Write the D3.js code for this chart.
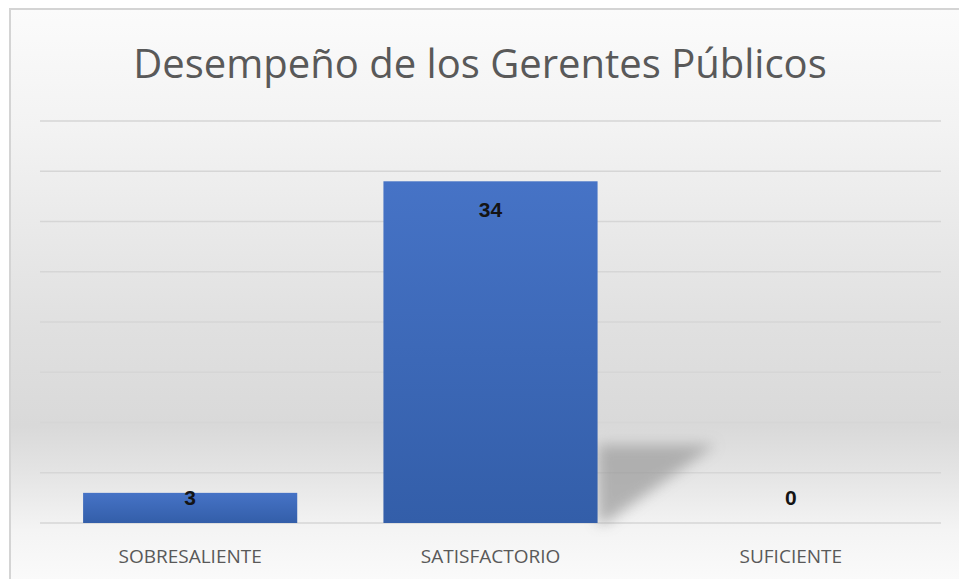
<!DOCTYPE html>
<html><head><meta charset="utf-8">
<script src="https://cdn.jsdelivr.net/npm/d3@7"></script>
<style>html,body{margin:0;padding:0;background:#fff;overflow:hidden}</style>
</head><body>
<svg id="c" width="959" height="579"></svg>
<script>
const title = "Desempeño de los Gerentes Públicos";
const categories = ["SOBRESALIENTE", "SATISFACTORIO", "SUFICIENTE"];
const values = [3, 34, 0];
const yTicks = [0, 5, 10, 15, 20, 25, 30, 35, 40];

(function(){
const svg = d3.select("#c");
const W = 959, H = 579;
const defs = svg.append("defs");

const bg = defs.append("linearGradient").attr("id","bg").attr("x1",0).attr("y1",0).attr("x2",0).attr("y2",1);
[[0,"#fbfbfb"],[0.2,"#f3f3f3"],[0.55,"#e0e0e0"],[0.72,"#d9d9d9"],[0.8,"#e4e4e4"],[0.9,"#f4f4f4"],[1,"#fbfbfb"]]
  .forEach(([o,c])=>bg.append("stop").attr("offset",o).attr("stop-color",c));

const barG = defs.append("linearGradient").attr("id","barG").attr("x1",0).attr("y1",0).attr("x2",0).attr("y2",1);
barG.append("stop").attr("offset",0).attr("stop-color","#4673c6");
barG.append("stop").attr("offset",1).attr("stop-color","#335ea9");

const blur = defs.append("filter").attr("id","blur").attr("x","-30%").attr("y","-30%").attr("width","160%").attr("height","160%");
blur.append("feGaussianBlur").attr("stdDeviation",7);

svg.append("rect").attr("x",10).attr("y",9).attr("width",W).attr("height",H)
  .attr("fill","url(#bg)").attr("stroke","#d4d4d4").attr("stroke-width",2);

svg.append("text").attr("x",480).attr("y",78).attr("text-anchor","middle")
  .attr("font-family","'Open Sans', 'Noto Sans', sans-serif").attr("font-size",40)
  .attr("fill","#595959").text(title);

const pl = 40, pr = 941, pt = 121, pb = 523;
const x = d3.scaleBand().domain(categories).range([pl, pr]).paddingInner(0.287).paddingOuter(0.1435);
const y = d3.scaleLinear().domain([0, 40]).range([pb, pt]);

svg.append("g").selectAll("line").data(yTicks).join("line")
  .attr("x1", pl).attr("x2", pr)
  .attr("y1", d=>y(d)).attr("y2", d=>y(d))
  .attr("stroke", "#d6d6d6").attr("stroke-width", 1.5);

const iMax = values.indexOf(d3.max(values));
const sx = x(categories[iMax]) + x.bandwidth();
svg.append("path")
  .attr("d", `M${sx},${y(7.8)} L${sx+118},${y(7.8)} L${sx+8},${y(0)} L${sx},${y(0)} Z`)
  .attr("fill", "#9a9a9a").attr("opacity", 0.7).attr("filter","url(#blur)");

svg.append("g").selectAll("rect").data(values).join("rect")
  .attr("x", (d,i)=>x(categories[i]))
  .attr("y", d=>y(d))
  .attr("width", x.bandwidth())
  .attr("height", d=>y(0)-y(d))
  .attr("fill", "url(#barG)");

function labelY(d){
  if (d === 0) return y(0) - 18;
  if (d < 10) return y(d) + 12;
  return y(d) + 36;
}
svg.append("g").selectAll("text").data(values).join("text")
  .attr("x", (d,i)=>x(categories[i]) + x.bandwidth()/2)
  .attr("y", labelY)
  .attr("text-anchor","middle")
  .attr("font-family","'Liberation Sans', Arial, sans-serif").attr("font-weight","bold")
  .attr("font-size",21).attr("fill","#141414")
  .text(d=>d);

svg.append("g").selectAll("text").data(categories).join("text")
  .attr("x", d=>x(d) + x.bandwidth()/2)
  .attr("y", 563)
  .attr("text-anchor","middle")
  .attr("font-family","'Open Sans', 'Noto Sans', sans-serif").attr("font-size",19)
  .attr("fill","#595959").text(d=>d);
})();
</script>
</body></html>
